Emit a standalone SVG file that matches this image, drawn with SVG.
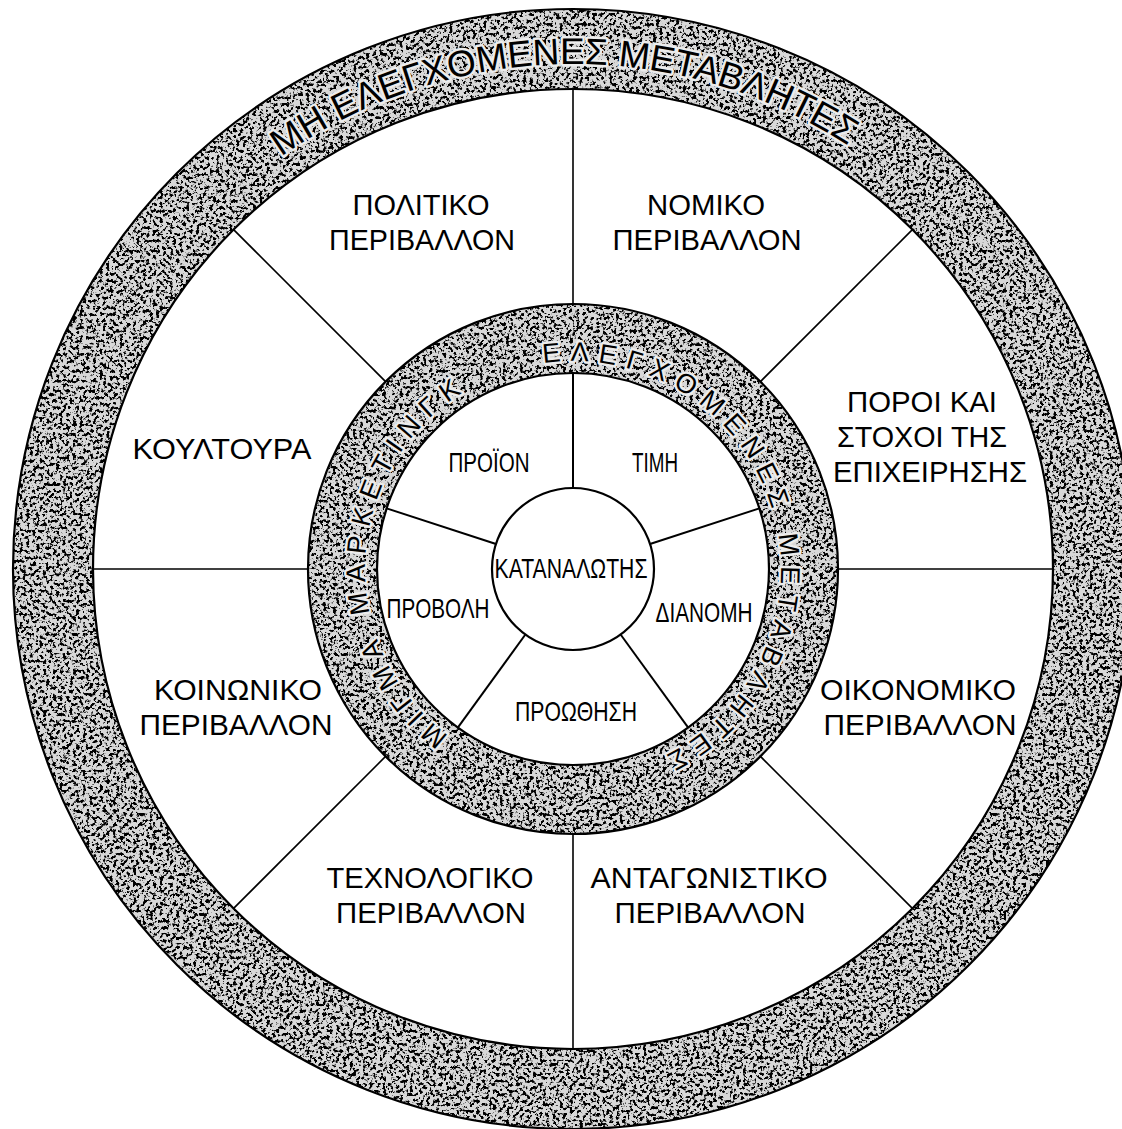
<svg xmlns="http://www.w3.org/2000/svg" xmlns:xlink="http://www.w3.org/1999/xlink" width="1122" height="1129" viewBox="0 0 1122 1129">
<style>
.edge{fill:none;stroke:#000;stroke-width:2.2}
.spoke{stroke:#000;stroke-width:1.6;fill:none}
.ispoke{stroke:#000;stroke-width:2;fill:none}
.lbl{font-family:"Liberation Sans",Arial,sans-serif;font-size:29px;fill:#000;text-anchor:middle}
.in{font-family:"Liberation Sans",Arial,sans-serif;font-size:28px;fill:#000;text-anchor:middle}
.arc{font-family:"Liberation Sans",Arial,sans-serif;fill:#000;paint-order:stroke;stroke:#ececec;stroke-width:5;stroke-linejoin:round}
.ch{font-family:"Liberation Sans",Arial,sans-serif;font-size:27px;fill:#000;text-anchor:middle;paint-order:stroke;stroke:#ececec;stroke-width:5;stroke-linejoin:round}
.base{fill:#d8d8d8;fill-rule:evenodd}
.grain{fill:#000;fill-rule:evenodd}
</style>
<defs>
<filter id="speckle" x="0" y="0" width="1" height="1">
<feTurbulence type="fractalNoise" baseFrequency="0.3" numOctaves="3" seed="5" result="n"/>
<feColorMatrix in="n" type="matrix" values="0 0 0 0 0  0 0 0 0 0  0 0 0 0 0  9 0 0 0 -4.55" result="d"/>
<feComposite in="d" in2="SourceAlpha" operator="in"/>
</filter>
<path id="outerArc" d="M 68,569 A 505 505 0 1 1 1078,569 A 505 505 0 1 1 68,569"/>
</defs>
<rect width="1122" height="1129" fill="#fff"/>

<g id="outer-ring">
<path class="base" d="M 13,569 A 560 560 0 1 1 1133,569 A 560 560 0 1 1 13,569 Z M 93,569 A 480 480 0 1 0 1053,569 A 480 480 0 1 0 93,569 Z"/>
<path class="grain" filter="url(#speckle)" d="M 13,569 A 560 560 0 1 1 1133,569 A 560 560 0 1 1 13,569 Z M 93,569 A 480 480 0 1 0 1053,569 A 480 480 0 1 0 93,569 Z"/>
<circle class="edge" cx="573" cy="569" r="560" stroke-width="2.8"/>
<circle class="edge" cx="573" cy="569" r="480"/>
<text class="arc" font-size="37"><textPath xlink:href="#outerArc" href="#outerArc" startOffset="482">ΜΗ ΕΛΕΓΧΟΜΕΝΕΣ ΜΕΤΑΒΛΗΤΕΣ</textPath></text>
</g>

<g id="inner-ring">
<path class="base" d="M 308,569 A 265 265 0 1 1 838,569 A 265 265 0 1 1 308,569 Z M 377,569 A 196 196 0 1 0 769,569 A 196 196 0 1 0 377,569 Z"/>
<path class="grain" filter="url(#speckle)" d="M 308,569 A 265 265 0 1 1 838,569 A 265 265 0 1 1 308,569 Z M 377,569 A 196 196 0 1 0 769,569 A 196 196 0 1 0 377,569 Z"/>
<circle class="edge" cx="573" cy="569" r="265"/>
<circle class="edge" cx="573" cy="569" r="196"/>
<g id="marketing-mix-label">
<text class="ch" x="573" y="361" transform="rotate(219.80 573 569)">Μ</text>
<text class="ch" x="573" y="361" transform="rotate(226.49 573 569)">Ι</text>
<text class="ch" x="573" y="361" transform="rotate(232.14 573 569)">Γ</text>
<text class="ch" x="573" y="361" transform="rotate(239.85 573 569)">Μ</text>
<text class="ch" x="573" y="361" transform="rotate(247.98 573 569)">Α</text>
<text class="ch" x="573" y="361" transform="rotate(260.76 573 569)">Μ</text>
<text class="ch" x="573" y="361" transform="rotate(268.89 573 569)">Α</text>
<text class="ch" x="573" y="361" transform="rotate(276.42 573 569)">Ρ</text>
<text class="ch" x="573" y="361" transform="rotate(283.94 573 569)">Κ</text>
<text class="ch" x="573" y="361" transform="rotate(291.46 573 569)">Ε</text>
<text class="ch" x="573" y="361" transform="rotate(298.78 573 569)">Τ</text>
<text class="ch" x="573" y="361" transform="rotate(304.65 573 569)">Ι</text>
<text class="ch" x="573" y="361" transform="rotate(310.93 573 569)">Ν</text>
<text class="ch" x="573" y="361" transform="rotate(318.22 573 569)">Γ</text>
<text class="ch" x="573" y="361" transform="rotate(325.31 573 569)">Κ</text>
</g>
<g id="controlled-label">
<text class="ch" x="573" y="361" transform="rotate(-5.72 573 569)">Ε</text>
<text class="ch" x="573" y="361" transform="rotate(1.80 573 569)">Λ</text>
<text class="ch" x="573" y="361" transform="rotate(9.32 573 569)">Ε</text>
<text class="ch" x="573" y="361" transform="rotate(16.42 573 569)">Γ</text>
<text class="ch" x="573" y="361" transform="rotate(23.51 573 569)">Χ</text>
<text class="ch" x="573" y="361" transform="rotate(31.45 573 569)">Ο</text>
<text class="ch" x="573" y="361" transform="rotate(40.00 573 569)">Μ</text>
<text class="ch" x="573" y="361" transform="rotate(48.14 573 569)">Ε</text>
<text class="ch" x="573" y="361" transform="rotate(55.87 573 569)">Ν</text>
<text class="ch" x="573" y="361" transform="rotate(63.59 573 569)">Ε</text>
<text class="ch" x="573" y="361" transform="rotate(70.93 573 569)">Σ</text>
<text class="ch" x="573" y="361" transform="rotate(83.51 573 569)">Μ</text>
<text class="ch" x="573" y="361" transform="rotate(91.65 573 569)">Ε</text>
<text class="ch" x="573" y="361" transform="rotate(98.97 573 569)">Τ</text>
<text class="ch" x="573" y="361" transform="rotate(106.29 573 569)">Α</text>
<text class="ch" x="573" y="361" transform="rotate(113.80 573 569)">Β</text>
<text class="ch" x="573" y="361" transform="rotate(121.33 573 569)">Λ</text>
<text class="ch" x="573" y="361" transform="rotate(129.06 573 569)">Η</text>
<text class="ch" x="573" y="361" transform="rotate(136.58 573 569)">Τ</text>
<text class="ch" x="573" y="361" transform="rotate(143.89 573 569)">Ε</text>
<text class="ch" x="573" y="361" transform="rotate(151.23 573 569)">Σ</text>
</g>
</g>

<g id="connectors">
<line class="spoke" x1="573" y1="304" x2="573" y2="89"/>
<line class="spoke" x1="760.4" y1="381.6" x2="912.4" y2="229.6"/>
<line class="spoke" x1="838" y1="569" x2="1053" y2="569"/>
<line class="spoke" x1="760.4" y1="756.4" x2="912.4" y2="908.4"/>
<line class="spoke" x1="573" y1="834" x2="573" y2="1049"/>
<line class="spoke" x1="385.6" y1="756.4" x2="233.6" y2="908.4"/>
<line class="spoke" x1="308" y1="569" x2="93" y2="569"/>
<line class="spoke" x1="385.6" y1="381.6" x2="233.6" y2="229.6"/>
<line class="ispoke" x1="573" y1="488" x2="573" y2="373"/>
<line class="ispoke" x1="650" y1="544" x2="759.4" y2="508.4"/>
<line class="ispoke" x1="620.6" y1="634.5" x2="688.2" y2="727.6"/>
<line class="ispoke" x1="525.4" y1="634.5" x2="457.8" y2="727.6"/>
<line class="ispoke" x1="496" y1="544" x2="386.6" y2="508.4"/>
</g>

<g id="consumer">
<circle cx="573" cy="569" r="81" fill="#fff" stroke="#000" stroke-width="2.2"/>
<text class="in" x="571" y="578" textLength="153" lengthAdjust="spacingAndGlyphs">ΚΑΤΑΝΑΛΩΤΗΣ</text>
</g>

<g id="product"><text class="in" x="489" y="472" textLength="81" lengthAdjust="spacingAndGlyphs">ΠΡΟΪΟΝ</text></g>
<g id="price"><text class="in" x="655" y="472" textLength="46" lengthAdjust="spacingAndGlyphs">ΤΙΜΗ</text></g>
<g id="distribution"><text class="in" x="704" y="622" textLength="97" lengthAdjust="spacingAndGlyphs">ΔΙΑΝΟΜΗ</text></g>
<g id="promotion"><text class="in" x="576" y="721" textLength="122" lengthAdjust="spacingAndGlyphs">ΠΡΟΩΘΗΣΗ</text></g>
<g id="advertising"><text class="in" x="438" y="618" textLength="103" lengthAdjust="spacingAndGlyphs">ΠΡΟΒΟΛΗ</text></g>

<g id="political">
<text class="lbl" x="421" y="215" textLength="137" lengthAdjust="spacingAndGlyphs">ΠΟΛΙΤΙΚΟ</text>
<text class="lbl" x="422" y="250" textLength="186" lengthAdjust="spacingAndGlyphs">ΠΕΡΙΒΑΛΛΟΝ</text>
</g>
<g id="legal">
<text class="lbl" x="706" y="215" textLength="118" lengthAdjust="spacingAndGlyphs">ΝΟΜΙΚΟ</text>
<text class="lbl" x="707" y="250" textLength="189" lengthAdjust="spacingAndGlyphs">ΠΕΡΙΒΑΛΛΟΝ</text>
</g>
<g id="resources">
<text class="lbl" x="922" y="412" textLength="150" lengthAdjust="spacingAndGlyphs">ΠΟΡΟΙ ΚΑΙ</text>
<text class="lbl" x="922" y="447" textLength="170" lengthAdjust="spacingAndGlyphs">ΣΤΟΧΟΙ ΤΗΣ</text>
<text class="lbl" x="930" y="482" textLength="194" lengthAdjust="spacingAndGlyphs">ΕΠΙΧΕΙΡΗΣΗΣ</text>
</g>
<g id="culture">
<text class="lbl" x="222" y="459" textLength="179" lengthAdjust="spacingAndGlyphs">ΚΟΥΛΤΟΥΡΑ</text>
</g>
<g id="social">
<text class="lbl" x="238" y="700" textLength="168" lengthAdjust="spacingAndGlyphs">ΚΟΙΝΩΝΙΚΟ</text>
<text class="lbl" x="236" y="735" textLength="193" lengthAdjust="spacingAndGlyphs">ΠΕΡΙΒΑΛΛΟΝ</text>
</g>
<g id="economic">
<text class="lbl" x="918" y="700" textLength="196" lengthAdjust="spacingAndGlyphs">ΟΙΚΟΝΟΜΙΚΟ</text>
<text class="lbl" x="920" y="735" textLength="193" lengthAdjust="spacingAndGlyphs">ΠΕΡΙΒΑΛΛΟΝ</text>
</g>
<g id="technological">
<text class="lbl" x="430" y="888" textLength="207" lengthAdjust="spacingAndGlyphs">ΤΕΧΝΟΛΟΓΙΚΟ</text>
<text class="lbl" x="431" y="923" textLength="190" lengthAdjust="spacingAndGlyphs">ΠΕΡΙΒΑΛΛΟΝ</text>
</g>
<g id="competitive">
<text class="lbl" x="709" y="888" textLength="237" lengthAdjust="spacingAndGlyphs">ΑΝΤΑΓΩΝΙΣΤΙΚΟ</text>
<text class="lbl" x="710" y="923" textLength="191" lengthAdjust="spacingAndGlyphs">ΠΕΡΙΒΑΛΛΟΝ</text>
</g>
</svg>
